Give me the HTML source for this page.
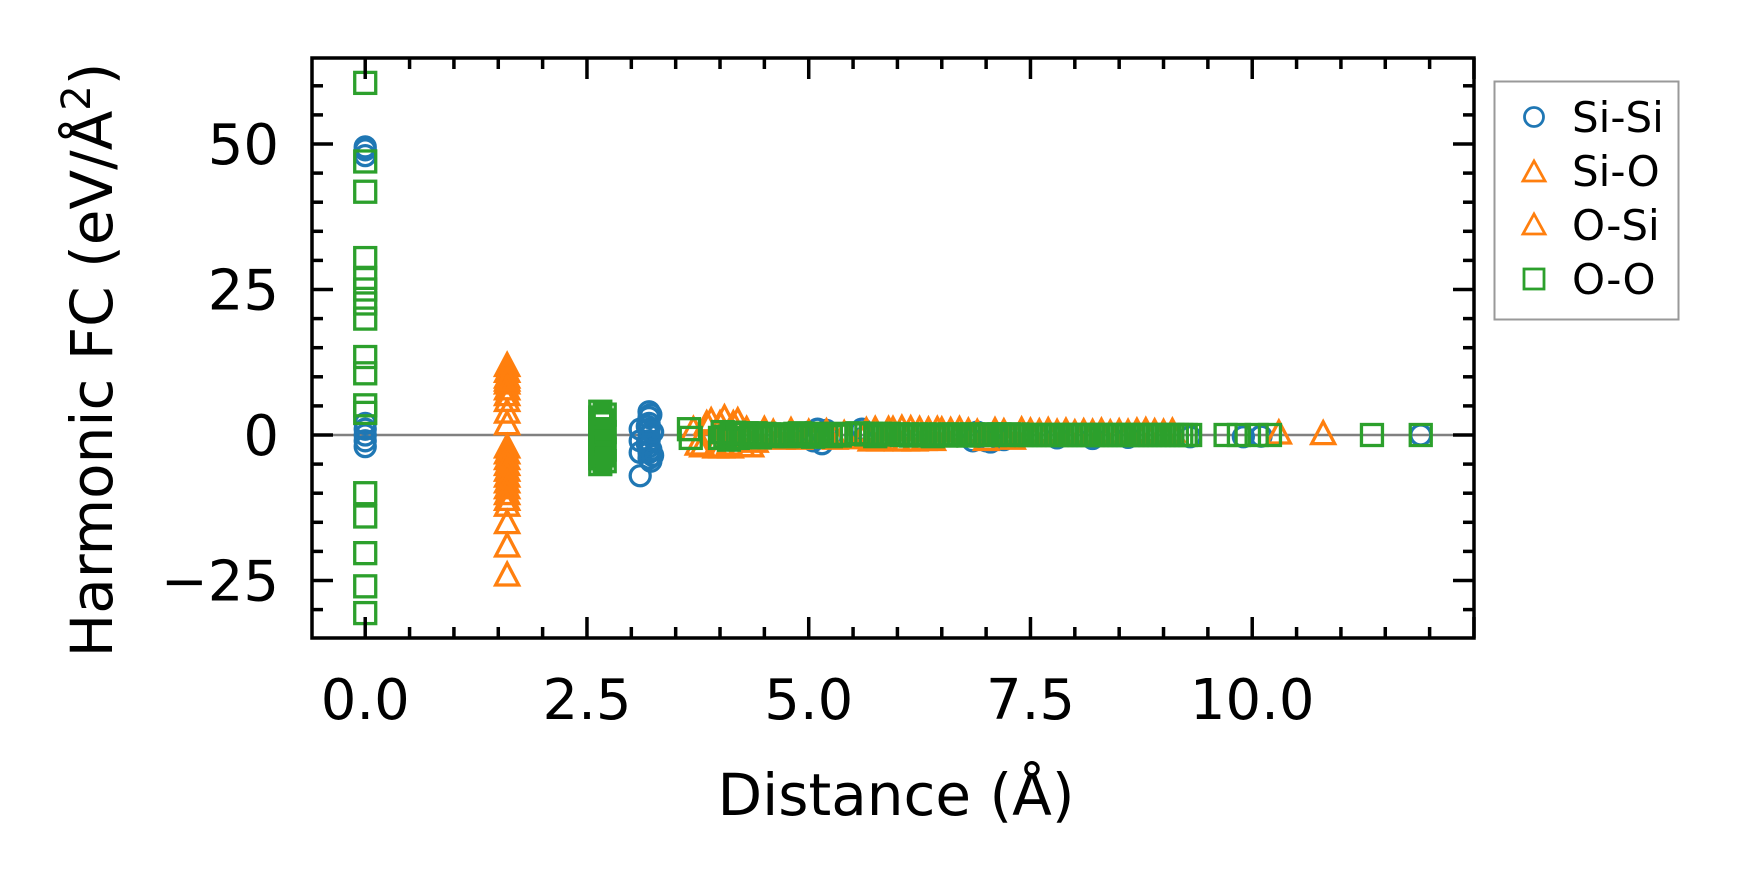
<!DOCTYPE html>
<html><head><meta charset="utf-8"><style>
html,body{margin:0;padding:0;background:#fff;}
svg{display:block;font-family:"DejaVu Sans","Liberation Sans",sans-serif;}
</style></head><body>
<svg id="chart" width="1737" height="883" viewBox="0 0 1737 883">
<rect width="1737" height="883" fill="#fff"/>
<g id="plot"></g>
<g id="axes"></g>
</svg>
<script>
// ---- data ----
const xTicks = [0, 2.5, 5, 7.5, 10];
const xTickLabels = ["0.0", "2.5", "5.0", "7.5", "10.0"];
const yTicks = [-25, 0, 25, 50];
const yTickLabels = ["\u221225", "0", "25", "50"];
const siSiX = [0,0,0,0,0,0,0,0, 3.1,3.1,3.1,3.1,3.2,3.2,3.2,3.2,3.2,3.2,3.2,3.2,3.2,3.22,3.22,3.22,3.18,3.18,3.24,3.24,
 5.0,5.05,5.1,5.15,5.2,5.25,5.6,5.62, 6.85,6.9,7.0,7.05,7.1,7.2,7.8,8.2,8.6,9.3,9.9,10.1,11.9];
const siSiY = [48,49,49.5,2,1,0,-1,-2, -7,-1,1,-3,4,3,2,1,0,-1,-2,-3,-4,3.5,-2.5,-4.5,1.5,-1.5,0.5,-3.5,
 0.5,-1,1,-1.5,0.8,-0.5,1,-0.5, -1,0.5,-1,-1.2,0.3,-0.8,-0.5,-0.6,-0.4,-0.3,-0.3,-0.2,0];
const siOX = [1.6,1.6,1.6,1.6,1.6,1.6,1.6,1.6,1.6,1.6,1.6,1.6,1.6,1.6,1.6,1.6,1.6,1.6,1.6,1.6,1.6,1.6,
 3.7,3.75,3.8,3.85,3.9,3.95,4.0,4.02,4.05,4.1,4.12,4.15,4.2,4.25,4.3,4.35,4.4,4.5,4.6,4.7,4.8,4.9,5.0,5.2,5.3,5.4,
 5.6,5.65,5.7,5.75,5.8,5.85,5.9,5.95,6.0,6.05,6.1,6.15,6.2,6.25,6.3,6.35,6.4,6.45,6.5,6.6,6.7,6.8,6.9,7.0,7.1,7.2,7.3,7.4,7.5,7.6,7.7,7.8,7.9,8.0,8.1,8.2,8.3,8.4,8.5,8.6,8.7,8.8,8.9,9.0,9.1,10.3,10.8];
const siOY = [12,11,10,9,8,7,6,4,2,-2,-3,-4,-5,-6,-7,-8,-9,-10,-11,-12,-15,-19,
 1,-1.5,-1.8,2,2.5,-2,2,-2,3,-1.5,-2,2,2.5,-1.8,1,-1.8,-1,1,0.5,-0.5,0.8,-0.5,0.5,0.6,-0.5,0.3,-0.4,
 0.8,-0.8,1,-0.8,-0.6,1,1,-0.8,1.2,-0.8,1.1,-0.8,1,-0.7,0.9,-0.7,1,0.9,0.8,1,0.7,0.5,-0.7,0.8,0.6,-0.5,0.9,0.7,0.6,0.8,0.5,0.7,0.4,0.6,0.5,0.7,0.4,0.6,0.5,0.7,0.8,0.6,0.5,0.7,0.4,0.3,0,0];
const oSiX = [1.6, 1.6];
const oSiY = [-24, 9.5];
const ooX = [0,0,0,0,0,0,0,0,0,0,0,0,0,0,0,0,0, 2.65,2.65,2.65,2.65,2.65,2.65,2.65,2.65,2.65,2.65,2.7,2.7,2.7,2.7,2.68,2.68,2.68,2.68,
 3.65,3.67,4.0,4.03,4.06,4.1,4.13,4.16,4.2,4.25,4.3,4.35,4.4,4.45,4.5,4.55,4.6,4.65,4.7,4.75,4.8,4.85,4.9,4.95,5.0,5.05,5.1,5.15,5.2,5.25,5.3,5.35,
 5.55,5.6,5.65,5.7,5.75,5.8,5.85,5.9,5.95,6.0,6.05,6.1,6.15,6.2,6.25,6.3,6.35,6.4,6.45,6.5,6.55,6.6,6.65,6.7,6.75,6.8,6.85,6.9,6.95,7.0,7.05,7.1,7.15,7.2,7.25,7.3,7.35,7.4,7.45,7.5,7.55,7.6,7.65,7.7,7.75,7.8,7.85,7.9,7.95,8.0,8.05,8.1,8.15,8.2,8.25,8.3,8.35,8.4,8.45,8.5,8.55,8.6,8.65,8.7,8.75,8.8,8.85,8.9,8.95,9.0,9.05,9.1,9.15,9.2,9.25,9.3,9.7,9.85,10.05,10.2,11.35,11.9];
const ooY = [60.5,47,41.8,30.4,27,25,22.6,20,13.4,10.6,5.1,3.8,-10,-14,-20.3,-26,-30.6, 4,3,2,1,0,-1,-2,-3,-4,-5,3.5,0.5,-2.5,-4.5,2.5,-0.5,-1.5,-3.5,
 1,-0.5,-0.5,0.5,-0.3,-0.8,0.2,0.4,-0.5,0.2,0.3,-0.2,0.3,-0.4,0.2,0.1,-0.2,0.1,0.1,-0.2,-0.2,0.2,0.3,-0.1,0.2,-0.3,0.2,0.1,0.1,-0.2,0.2,-0.1,
 0.3,0.2,0.1,0.2,-0.2,0.2,0.1,0.2,0.1,0.1,0,0.1,-0.1,0.1,0,0.1,0,-0.2,0.1,0,-0.1,0.1,0,0.1,0,-0.1,0.1,0,0.1,0,0.1,0,0.1,0,0.1,0,0.1,0,0,0,0,0,0,0,0,0,0,0,0,0,0,0,0,0,0,0,0,0,0,0,0,0,0,0,0,0,0,0,0,0,0,0,0,0,0,0,0,0,0,0,0,0,0,0,0,0,0,0];

// ---- layout ----
const L = 312, R = 1474, T = 58, B = 638;
const xMin = -0.6;
const xMax = (R - L) / 88.7 - 0.6;
const y0px = 435, yUnit = 5.82;
const X = v => L + (v - xMin) * 88.7;
const Y = v => y0px - v * yUnit;
const NS = "http://www.w3.org/2000/svg";
const plot = document.getElementById('plot');
const axes = document.getElementById('axes');
function mk(tag, attrs, parent) {
  const el = document.createElementNS(NS, tag);
  for (const k in attrs) el.setAttribute(k, attrs[k]);
  parent.appendChild(el);
  return el;
}
const defs = mk('defs', {}, document.getElementById('chart'));
const cp = mk('clipPath', {id: 'clip'}, defs);
mk('rect', {x: L, y: T, width: R - L, height: B - T}, cp);
plot.setAttribute('clip-path', 'url(#clip)');

const zl = mk('line', {x1: L, x2: R, y1: Y(0), y2: Y(0), stroke: '#808080', 'stroke-width': 2.4}, plot);



const blue = '#1f77b4', orange = '#ff7f0e', green = '#2ca02c';
const SW = 3.3;
function circle(cx, cy, c, g) {
  return mk('circle', {cx: cx, cy: cy, r: 10, fill: 'none', stroke: c, 'stroke-width': SW}, g);
}
function tri(cx, cy, c, g) {
  const s = 11.5;
  return mk('polygon', {points: `${cx},${cy - s} ${cx - s},${cy + s * 0.9} ${cx + s},${cy + s * 0.9}`, fill: 'none', stroke: c, 'stroke-width': SW}, g);
}
function sq(cx, cy, c, g) {
  return mk('rect', {x: cx - 10.5, y: cy - 10.5, width: 21, height: 21, fill: 'none', stroke: c, 'stroke-width': SW}, g);
}
const gS = mk('g', {}, plot);


siSiX.forEach((x, i) => {
  const el = circle(X(x), Y(siSiY[i]), blue, gS);
  
  
});
const gSO = mk('g', {}, plot);


siOX.forEach((x, i) => {
  const el = tri(X(x), Y(siOY[i]), orange, gSO);
  
  
});
const gOS = mk('g', {}, plot);


oSiX.forEach((x, i) => {
  const el = tri(X(x), Y(oSiY[i]), orange, gOS);
  
  
});
const gOO = mk('g', {}, plot);


ooX.forEach((x, i) => {
  const el = sq(X(x), Y(ooY[i]), green, gOO);
  
  
});

const tk = {stroke: '#000', 'stroke-width': 3.5};
for (let v = 0; v <= xMax; v += 0.5) {
  const major = Math.abs(v / 2.5 - Math.round(v / 2.5)) < 1e-6;
  const len = major ? 21 : 11;
  const x = X(v);
  mk('line', Object.assign({x1: x, x2: x, y1: B, y2: B - len}, tk), axes);
  mk('line', Object.assign({x1: x, x2: x, y1: T, y2: T + len}, tk), axes);
}
for (let v = -35; v <= 65; v += 5) {
  const y = Y(v);
  if (y < T || y > B) continue;
  const major = v % 25 === 0;
  const len = major ? 21 : 11;
  mk('line', Object.assign({x1: L, x2: L + len, y1: y, y2: y}, tk), axes);
  mk('line', Object.assign({x1: R, x2: R - len, y1: y, y2: y}, tk), axes);
}
const frame = mk('rect', {x: L, y: T, width: R - L, height: B - T, fill: 'none', stroke: '#000', 'stroke-width': 3.5}, axes);



xTicks.forEach((v, i) => {
  const t = mk('text', {x: X(v), y: 719, 'text-anchor': 'middle', 'font-size': 56, fill: '#000'}, axes);
  t.textContent = xTickLabels[i];
  
  
});
yTicks.forEach((v, i) => {
  const t = mk('text', {x: 279, y: Y(v) + 20, 'text-anchor': 'end', 'font-size': 56, fill: '#000'}, axes);
  t.textContent = yTickLabels[i];
  
  
});
</script>
<svg style="position:absolute;left:0;top:0" width="1737" height="883">
  <text x="896" y="815" text-anchor="middle" font-size="58" font-family="DejaVu Sans, Liberation Sans, sans-serif">Distance (Å)</text>
  <text transform="translate(112,360) rotate(-90)" text-anchor="middle" font-size="58" font-family="DejaVu Sans, Liberation Sans, sans-serif">Harmonic FC (eV/Å<tspan dy="-22" font-size="40">2</tspan><tspan dy="22">)</tspan></text>
  <g>
    <rect x="1494.5" y="81.5" width="184" height="238" fill="#fff" stroke="#999" stroke-width="2"/>
    <g>
      <circle cx="1534" cy="117" r="9.5" fill="none" stroke="#1f77b4" stroke-width="2.8"/>
      <text x="1572" y="132" font-size="42" font-family="DejaVu Sans, Liberation Sans, sans-serif">Si-Si</text>
    </g>
    <g>
      <polygon points="1534,161 1523,181 1545,181" fill="none" stroke="#ff7f0e" stroke-width="2.8"/>
      <text x="1572" y="186" font-size="42" font-family="DejaVu Sans, Liberation Sans, sans-serif">Si-O</text>
    </g>
    <g>
      <polygon points="1534,214 1523,234 1545,234" fill="none" stroke="#ff7f0e" stroke-width="2.8"/>
      <text x="1572" y="240" font-size="42" font-family="DejaVu Sans, Liberation Sans, sans-serif">O-Si</text>
    </g>
    <g>
      <rect x="1524" y="269" width="20" height="20" fill="none" stroke="#2ca02c" stroke-width="2.8"/>
      <text x="1572" y="294" font-size="42" font-family="DejaVu Sans, Liberation Sans, sans-serif">O-O</text>
    </g>
  </g>
</svg>
</body></html>
